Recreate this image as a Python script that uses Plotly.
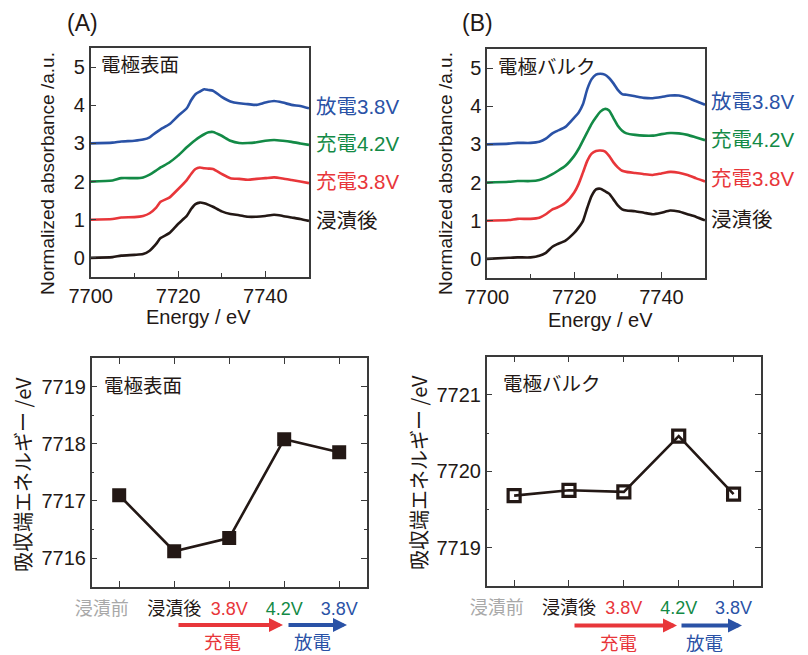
import plotly.graph_objects as go

# ---------------- data ----------------
energy_A = [7700, 7705, 7707, 7710, 7712, 7713.5, 7715, 7716, 7718, 7720,
            7722, 7723, 7724, 7725, 7726, 7727, 7728, 7730, 7732, 7734,
            7736, 7738, 7740, 7742, 7744, 7746, 7748, 7750]
surf_after_dip = [0.0, 0.02, 0.06, 0.08, 0.1, 0.19, 0.37, 0.52, 0.65, 0.89,
                  1.1, 1.28, 1.41, 1.45, 1.43, 1.39, 1.34, 1.22, 1.15, 1.12,
                  1.08, 1.08, 1.1, 1.13, 1.1, 1.06, 1.02, 0.97]
surf_charge38 = [1.0, 1.02, 1.06, 1.07, 1.1, 1.17, 1.32, 1.47, 1.58, 1.8,
                 2.04, 2.2, 2.33, 2.37, 2.35, 2.34, 2.33, 2.2, 2.09, 2.07,
                 2.05, 2.07, 2.09, 2.11, 2.08, 2.04, 2.0, 1.96]
surf_charge42 = [2.0, 2.03, 2.09, 2.09, 2.11, 2.18, 2.29, 2.37, 2.5, 2.68,
                 2.9, 3.0, 3.09, 3.17, 3.24, 3.29, 3.3, 3.2, 3.07, 3.01,
                 3.01, 3.03, 3.07, 3.09, 3.07, 3.04, 3.0, 2.96]
surf_disch38 = [3.0, 3.02, 3.05, 3.07, 3.1, 3.16, 3.29, 3.37, 3.5, 3.72,
                3.92, 4.13, 4.29, 4.36, 4.42, 4.4, 4.38, 4.22, 4.1, 4.05,
                4.03, 4.01, 4.07, 4.11, 4.07, 4.01, 3.98, 3.92]

energy_B = [7700, 7705, 7707, 7710, 7712, 7713.5, 7715, 7716, 7718, 7720,
            7721, 7722, 7723, 7724, 7725, 7726, 7727, 7728, 7729, 7730,
            7731, 7732, 7734, 7736, 7738, 7740, 7742, 7744, 7746, 7748, 7750]
bulk_after_dip = [0.0, 0.03, 0.04, 0.04, 0.08, 0.16, 0.32, 0.38, 0.48, 0.68,
                  0.82, 0.99, 1.34, 1.65, 1.82, 1.84, 1.78, 1.71, 1.56, 1.4,
                  1.3, 1.27, 1.25, 1.21, 1.17, 1.21, 1.27, 1.24, 1.17, 1.1, 1.01]
bulk_charge38 = [1.0, 1.02, 1.05, 1.05, 1.08, 1.17, 1.3, 1.34, 1.47, 1.74,
                 1.96, 2.26, 2.57, 2.76, 2.83, 2.84, 2.82, 2.7, 2.53, 2.4,
                 2.31, 2.28, 2.25, 2.22, 2.2, 2.24, 2.28, 2.26, 2.2, 2.11, 2.03]
bulk_charge42 = [2.0, 2.02, 2.04, 2.04, 2.07, 2.13, 2.22, 2.29, 2.44, 2.7,
                 2.88, 3.1, 3.32, 3.54, 3.71, 3.86, 3.93, 3.89, 3.69, 3.49,
                 3.36, 3.29, 3.25, 3.23, 3.23, 3.27, 3.3, 3.29, 3.25, 3.18, 3.11]
bulk_disch38 = [3.0, 3.02, 3.04, 3.04, 3.07, 3.15, 3.29, 3.35, 3.46, 3.7,
                3.83, 4.05, 4.45, 4.71, 4.83, 4.85, 4.83, 4.74, 4.6, 4.43,
                4.32, 4.3, 4.26, 4.22, 4.21, 4.24, 4.28, 4.28, 4.22, 4.13, 4.04]

spectrum_labels = ["浸漬後", "充電3.8V", "充電4.2V", "放電3.8V"]

stages = ["浸漬前", "浸漬後", "3.8V", "4.2V", "3.8V"]
stage_colors = ["#a8a8a8", "#231815", "#e8363a", "#138a46", "#2a52a6"]
edge_surface = [7717.1, 7716.12, 7716.35, 7718.08, 7717.85]
edge_bulk = [7719.68, 7719.75, 7719.73, 7720.46, 7719.70]

# ---------------- styling ----------------
W, H = 808, 655
BLACK = "#231815"
RED = "#e8363a"
GREEN = "#138a46"
BLUE = "#2a52a6"
FRAME = "#3a3a3a"
FONT = "Liberation Sans, Noto Sans CJK JP, sans-serif"
JFONT = "Noto Sans CJK JP, Liberation Sans, sans-serif"
curve_colors = [BLACK, RED, GREEN, BLUE]


def px(x):
    return x / W


def py(y):
    return 1 - y / H


fig = go.Figure()

for ys, c in zip([surf_after_dip, surf_charge38, surf_charge42, surf_disch38], curve_colors):
    fig.add_trace(go.Scatter(x=energy_A, y=ys, mode="lines", xaxis="x", yaxis="y",
                             line=dict(color=c, width=2.6, shape="spline", smoothing=0.6),
                             showlegend=False, hoverinfo="skip"))
for ys, c in zip([bulk_after_dip, bulk_charge38, bulk_charge42, bulk_disch38], curve_colors):
    fig.add_trace(go.Scatter(x=energy_B, y=ys, mode="lines", xaxis="x2", yaxis="y2",
                             line=dict(color=c, width=2.6, shape="spline", smoothing=0.6),
                             showlegend=False, hoverinfo="skip"))

idx = list(range(len(stages)))
fig.add_trace(go.Scatter(x=idx, y=edge_surface, mode="lines+markers", xaxis="x3", yaxis="y3",
                         line=dict(color=BLACK, width=2.6),
                         marker=dict(symbol="square", size=14, color=BLACK,
                                     line=dict(color=BLACK, width=0)),
                         showlegend=False, hoverinfo="skip"))
fig.add_trace(go.Scatter(x=idx, y=edge_bulk, mode="lines+markers", xaxis="x4", yaxis="y4",
                         line=dict(color=BLACK, width=2.6),
                         marker=dict(symbol="square-open", size=12, color=BLACK,
                                     line=dict(color=BLACK, width=3.2)),
                         showlegend=False, hoverinfo="skip"))

tickfont = dict(family=FONT, size=20, color=BLACK)
common = dict(showgrid=False, zeroline=False, showline=True, linecolor=FRAME, linewidth=1.5,
              ticks="inside", tickcolor=FRAME, tickwidth=1.3, tickfont=tickfont,
              automargin=False)
catfont = dict(family=FONT, size=18, color=BLACK)

# first label sits left of its tick in the original: pad it with trailing no-break spaces
ticktext = []
for i, (s, c) in enumerate(zip(stages, stage_colors)):
    pad = "\u00a0" * 7 if i == 0 else ""
    ticktext.append('<span style="color:%s">%s</span>%s' % (c, s, pad))

fig.update_layout(
    width=W, height=H, margin=dict(l=0, r=0, t=0, b=0),
    paper_bgcolor="white", plot_bgcolor="white",
    xaxis=dict(domain=[px(90.7), px(309)], anchor="y", range=[7700, 7750],
               tick0=7700, dtick=20, ticklen=6, mirror=True,
               minor=dict(dtick=10, ticks="inside", ticklen=4, tickcolor=FRAME), **common),
    yaxis=dict(domain=[py(277), py(48)], anchor="x", range=[-0.5, 5.5],
               dtick=1, ticklen=6, mirror=True, **common),
    xaxis2=dict(domain=[px(487), px(705)], anchor="y2", range=[7700, 7750],
                tick0=7700, dtick=20, ticklen=6, mirror=True,
                minor=dict(dtick=10, ticks="inside", ticklen=4, tickcolor=FRAME), **common),
    yaxis2=dict(domain=[py(278), py(49)], anchor="x2", range=[-0.5, 5.5],
                dtick=1, ticklen=6, mirror=True, **common),
    xaxis3=dict(domain=[px(91.7), px(366.7)], anchor="y3", range=[-0.5, 4.5],
                tickvals=idx, ticktext=ticktext, ticklen=6, mirror="allticks", tickangle=0,
                ticklabelstandoff=5, **{**common, "tickfont": catfont}),
    yaxis3=dict(domain=[py(586.7), py(358)], anchor="x3", range=[7715.5, 7719.5],
                dtick=1, ticklen=6, mirror="allticks", tickformat="d",
                minor=dict(dtick=0.5, ticks="inside", ticklen=3, tickcolor=FRAME), **common),
    xaxis4=dict(domain=[px(486.7), px(761)], anchor="y4", range=[-0.5, 4.5],
                tickvals=idx, ticktext=ticktext, ticklen=6, mirror="allticks", tickangle=0,
                ticklabelstandoff=5, **{**common, "tickfont": catfont}),
    yaxis4=dict(domain=[py(585.7), py(356.7)], anchor="x4", range=[7718.5, 7721.5],
                dtick=1, ticklen=6, mirror="allticks", tickformat="d",
                minor=dict(dtick=0.5, ticks="inside", ticklen=3, tickcolor=FRAME), **common),
)

ann = []


def text(x, y, s, size=18, color=BLACK, xanchor="center", angle=0, font=JFONT):
    ann.append(dict(x=px(x), y=py(y), xref="paper", yref="paper", text=s, showarrow=False,
                    xanchor=xanchor, yanchor="middle", textangle=angle,
                    font=dict(family=font, size=size, color=color)))


def arrow(x0, x1, y, color):
    ann.append(dict(x=px(x1), y=py(y), xref="paper", yref="paper", ax=-(x1 - x0), ay=0,
                    axref="pixel", ayref="pixel", text="", showarrow=True,
                    arrowhead=2, arrowsize=0.7, arrowwidth=4, arrowcolor=color, standoff=0))


# panel letters
text(82, 23, "(A)", size=23, font=FONT)
text(477, 23, "(B)", size=23, font=FONT)

# in-plot titles
text(99, 64, "電極表面", size=19.5, xanchor="left")
text(496, 65, "電極バルク", size=19.5, xanchor="left")
text(102, 384, "電極表面", size=19.5, xanchor="left")
text(501, 383, "電極バルク", size=19.5, xanchor="left")

# spectrum labels
ya = [220, 182, 143, 106]
yb = [219, 179, 139, 102]
for s, c, y1, y2 in zip(spectrum_labels, curve_colors, ya, yb):
    text(314, y1, s, size=20.5, color=c, xanchor="left", font=FONT)
    text(709, y2, s, size=20.5, color=c, xanchor="left", font=FONT)

# axis titles
text(47, 174, "Normalized absorbance /a.u.", size=19, angle=-90, font=FONT)
text(445, 174, "Normalized absorbance /a.u.", size=19, angle=-90, font=FONT)
text(198, 317, "Energy / eV", size=20, font=FONT)
text(600, 320, "Energy / eV", size=20, font=FONT)
text(22, 475, "吸収端エネルギー /eV", size=20, angle=-90)
text(418, 473, "吸収端エネルギー /eV", size=20, angle=-90)

# charge / discharge arrows
arrow(177, 283, 625, RED)
arrow(287, 347, 625, BLUE)
arrow(573, 677, 625.5, RED)
arrow(680, 742, 625.5, BLUE)
text(222, 641, "充電", size=18.5, color=RED)
text(312, 641, "放電", size=18.5, color=BLUE)
text(618, 642, "充電", size=18.5, color=RED)
text(704, 642, "放電", size=18.5, color=BLUE)

fig.update_layout(annotations=ann)
fig.write_html("out.html")
